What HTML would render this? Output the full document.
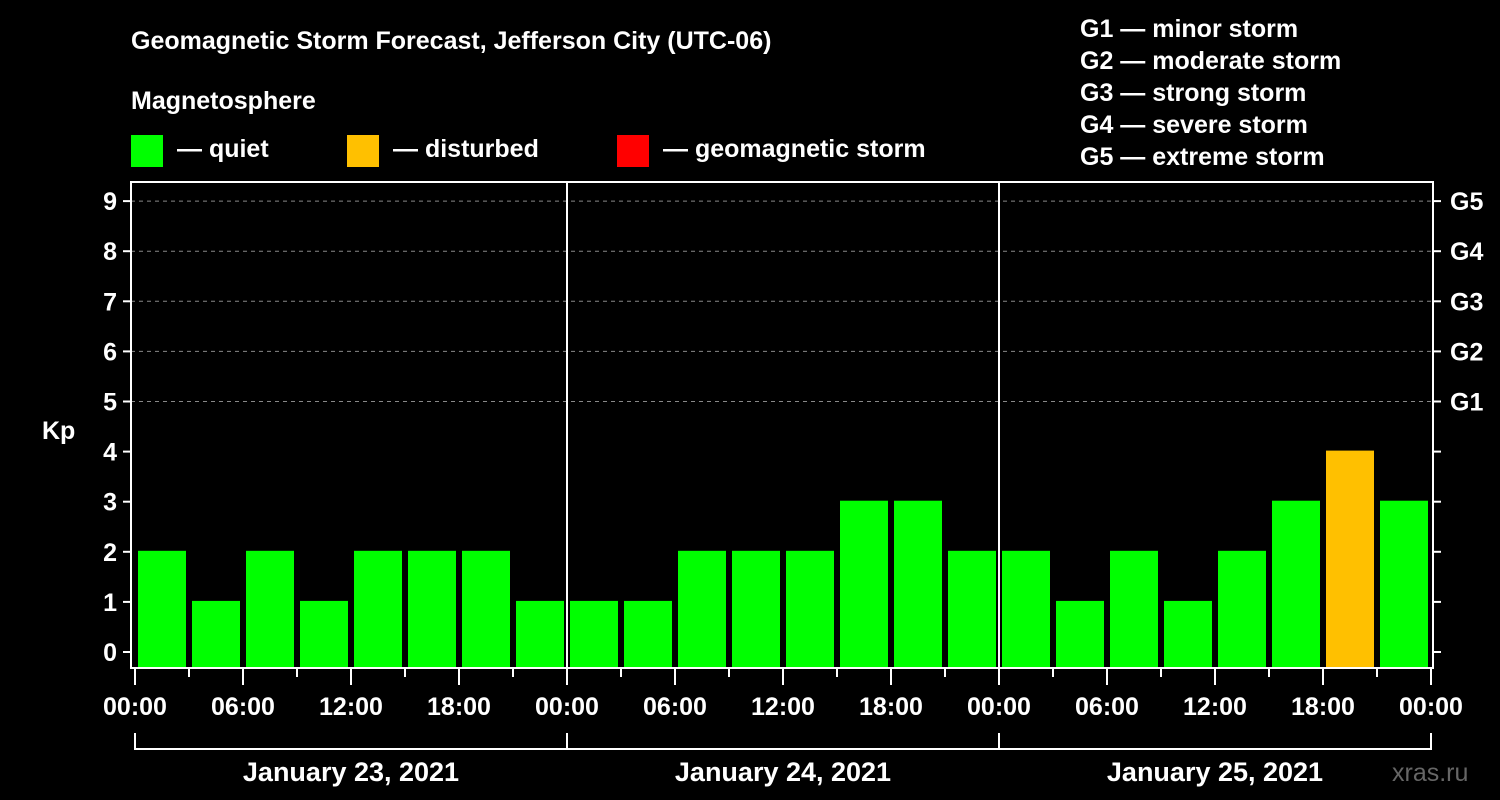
<!DOCTYPE html>
<html><head><meta charset="utf-8"><style>
body{margin:0;background:#000;}
svg{display:block;font-family:"Liberation Sans",Arial,sans-serif;font-weight:bold;}
</style></head><body>
<svg id="chart" width="1500" height="800" viewBox="0 0 1500 800">
<rect width="1500" height="800" fill="#000"/>
<text x="131" y="49" fill="#fff" font-size="25">Geomagnetic Storm Forecast, Jefferson City (UTC-06)</text>
<text x="131" y="109" fill="#fff" font-size="25">Magnetosphere</text>
<g><rect x="131" y="135" width="32" height="32" fill="#00ff00"/><text x="177" y="157" fill="#fff" font-size="25">— quiet</text></g>
<g><rect x="347" y="135" width="32" height="32" fill="#ffc000"/><text x="393" y="157" fill="#fff" font-size="25">— disturbed</text></g>
<g><rect x="617" y="135" width="32" height="32" fill="#ff0000"/><text x="663" y="157" fill="#fff" font-size="25">— geomagnetic storm</text></g>
<g fill="#fff" font-size="25">
<text x="1080" y="37">G1 — minor storm</text>
<text x="1080" y="69">G2 — moderate storm</text>
<text x="1080" y="101">G3 — strong storm</text>
<text x="1080" y="133">G4 — severe storm</text>
<text x="1080" y="165">G5 — extreme storm</text>
</g>
<text x="42" y="439" fill="#fff" font-size="25">Kp</text>
<g id="grid"></g>
<g id="bars"></g>
<g id="axes"></g>
<text x="1392" y="781" fill="#666" font-size="25" font-weight="normal">xras.ru</text>
</svg>
<script>
const kpValues = [2,1,2,1,2,2,2,1, 1,1,2,2,2,3,3,2, 2,1,2,1,2,3,4,3];
const dayLabels = ["January 23, 2021","January 24, 2021","January 25, 2021"];
const hourLabels = ["00:00","06:00","12:00","18:00"];
const kpTicks = [0,1,2,3,4,5,6,7,8,9];
const gLabels = ["G1","G2","G3","G4","G5"];

const NS="http://www.w3.org/2000/svg";
const X0=135, DAYW=432, L=131, R=1433, TOP=182, BOT=668;
const xH = h => X0 + h*DAYW/24;
const yK = k => 652 - k*50.1;
function mk(tag, attrs, parent){const e=document.createElementNS(NS,tag);for(const k in attrs)e.setAttribute(k,attrs[k]);parent.appendChild(e);return e;}
const grid=document.getElementById('grid'), bars=document.getElementById('bars'), axes=document.getElementById('axes');

kpTicks.forEach(k=>{
  if(k>=5){const g=mk('line',{x1:L,x2:R,y1:yK(k),y2:yK(k),stroke:'#888','stroke-dasharray':'4,4','stroke-width':1},grid);
  
  }
  const t=mk('line',{x1:L-8,x2:L,y1:yK(k),y2:yK(k),stroke:'#fff','stroke-width':2},axes);
  
  
  const tr=mk('line',{x1:R,x2:R+8,y1:yK(k),y2:yK(k),stroke:'#fff','stroke-width':2},axes);
  
  
  const lb=mk('text',{x:L-14,y:yK(k)+9,fill:'#fff','font-size':25,'text-anchor':'end'},axes);
  lb.textContent=k;
  
  
  if(k>=5){const gl=mk('text',{x:1450,y:yK(k)+9,fill:'#fff','font-size':25},axes);
  gl.textContent=gLabels[k-5];
  
  }
});

kpValues.forEach((v,i)=>{
  const col = v>=5?'#ff0000':(v>=4?'#ffc000':'#00ff00');
  const x=xH(i*3)+3, w=DAYW/8-6;
  const b=mk('rect',{x:x,y:yK(v)-1,width:w,height:BOT-yK(v)+1,fill:col},bars);
  
  
});

const fr=mk('rect',{x:L,y:TOP,width:R-L,height:BOT-TOP,fill:'none',stroke:'#fff','stroke-width':2},axes);


for(let d=1;d<dayLabels.length;d++){
  const dl=mk('line',{x1:X0+d*DAYW,x2:X0+d*DAYW,y1:TOP,y2:BOT,stroke:'#fff','stroke-width':2},axes);
  
  
}
for(let h=0;h<=72;h+=3){
  const major=h%6===0;
  const t=mk('line',{x1:xH(h),x2:xH(h),y1:BOT,y2:BOT+(major?17:9),stroke:'#fff','stroke-width':2},axes);
  
  
  if(major){
    const lb=mk('text',{x:xH(h),y:715,fill:'#fff','font-size':25,'text-anchor':'middle'},axes);
    lb.textContent=hourLabels[(h%24)/6];
    
    
  }
}
dayLabels.forEach((d,i)=>{
  const x1=X0+i*DAYW, x2=X0+(i+1)*DAYW;
  const br=mk('path',{d:`M${x1},733 V749 H${x2} V733`,fill:'none',stroke:'#fff','stroke-width':2},axes);
  
  
  const t=mk('text',{x:(x1+x2)/2,y:781,fill:'#fff','font-size':27,'text-anchor':'middle'},axes);
  t.textContent=d;
  
  
});
</script>
</body></html>
